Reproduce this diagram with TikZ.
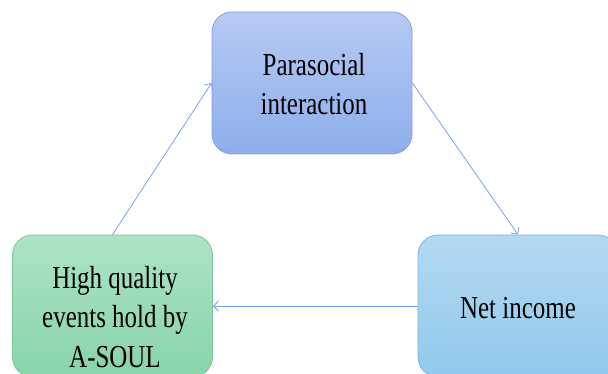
\documentclass[tikz,border=0pt]{standalone}
\usepackage{fontspec}
\setmainfont{Liberation Serif}[FakeStretch=0.78]
\usetikzlibrary{arrows.meta}
\definecolor{topA}{RGB}{182,202,243}
\definecolor{topB}{RGB}{142,174,236}
\definecolor{topE}{RGB}{128,162,228}
\definecolor{grA}{RGB}{172,227,198}
\definecolor{grB}{RGB}{136,212,168}
\definecolor{grE}{RGB}{122,200,152}
\definecolor{rtA}{RGB}{178,217,241}
\definecolor{rtB}{RGB}{146,200,236}
\definecolor{rtE}{RGB}{124,182,226}
\definecolor{arr}{RGB}{122,162,232}
\tikzset{
  box/.style={draw, line width=0.8pt, rounded corners=20pt, minimum width=200pt, minimum height=142pt, inner sep=0pt},
  lbl/.style={align=center, anchor=base, inner sep=0pt, font=\fontsize{32}{39.5}\selectfont},
  link/.style={draw=arr, line width=0.8pt, -{Straight Barb[length=5pt,width=10pt]}}
}
\begin{document}
\begin{tikzpicture}[x=1pt,y=-1pt]
\useasboundingbox (0,0) rectangle (608,374);
\clip (0,0) rectangle (608,374);
\node[box, draw=topE, top color=topA, bottom color=topB] (top) at (312,83) {};
\node[box, draw=grE, top color=grA, bottom color=grB] (green) at (112.5,306) {};
\node[box, draw=rtE, top color=rtA, bottom color=rtB] (right) at (518,306) {};
\node[lbl] (ttop) at (314,115) {Parasocial\\interaction};
\node[lbl] (tgreen) at (115,367) {High quality\\events hold by\\A-SOUL};
\node[lbl] (tright) at (518,318) {Net income};
\draw[link] (green.north) -- (top.west);
\draw[link] (top.east) -- (right.north);
\draw[link] (right.west) -- (green.east);
\end{tikzpicture}
\end{document}
